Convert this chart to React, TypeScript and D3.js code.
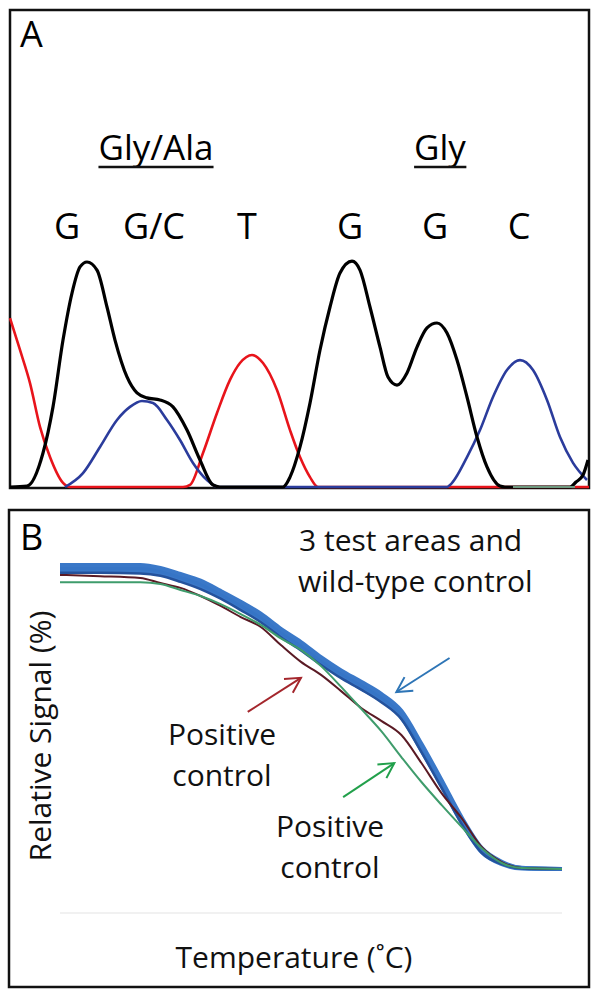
import React, { useEffect, useRef } from 'react';
import * as d3 from 'd3';

// ---- Panel A: sequencing chromatogram, [scan, signal %] ----
const blackTrace: [number, number][] = [
  [0, 0], [17, 0.4], [33, 15.1], [43, 35.6], [53, 65.3], [62, 86.2], [70, 97.8], [77, 100],
  [87, 96.4], [97, 80.0], [105, 65.3], [117, 48.9], [127, 41.8], [137, 39.6], [150, 38.7],
  [163, 35.6], [177, 25.3], [190, 12.0], [203, 0.9], [210, 0], [273, 0], [280, 4.4],
  [290, 17.8], [300, 37.3], [310, 60.9], [320, 80.0], [330, 95.1], [342, 100.4], [350, 96.4],
  [360, 80.0], [370, 62.2], [378, 48.9], [387, 45.3], [397, 50.7], [407, 62.2], [417, 70.7],
  [427, 72.9], [437, 68.4], [447, 56.4], [457, 40.0], [467, 22.2], [477, 8.9], [490, 0.4],
  [495, 0], [560, 0], [566, 2.2], [573, 5.3], [578, 12.0]
];
const redTrace: [number, number][] = [
  [0, 75.1], [10, 60.9], [20, 46.2], [30, 26.7], [40, 13.3], [53, 1.8], [60, 0], [173, 0],
  [180, 0.9], [193, 15.1], [207, 32.9], [220, 47.6], [230, 55.1], [242, 58.7], [253, 55.1],
  [267, 43.1], [280, 25.3], [290, 13.3], [300, 4.4], [308, 0], [579, 0]
];
const blueTrace: [number, number][] = [
  [55, 0], [73, 6.2], [90, 17.8], [107, 29.8], [120, 35.6], [132, 38.2], [143, 37.3],
  [157, 29.8], [170, 20.9], [183, 10.7], [197, 3.1], [208, 0], [437, 0], [440, 0.9],
  [457, 13.3], [470, 25.3], [483, 40.0], [497, 52.0], [510, 56.4], [523, 52.0], [537, 38.7],
  [550, 22.2], [563, 10.7], [577, 3.1]
];
const greenTrace: [number, number][] = [[503, 0], [565, 0]];

const baseCalls = ['G', 'G/C', 'T', 'G', 'G', 'C'];
const baseCallScan = [57, 144, 237, 340, 425, 509];
const codons = ['Gly/Ala', 'Gly'];
const codonScan = [146, 430];

// ---- Panel B: melting curves, signal % by temperature ----
const temps = [70, 72, 74, 75, 76, 77, 78, 79, 80, 81, 82, 83, 84, 85, 86, 87, 88, 89, 90, 91, 92, 93, 95];
const testArea1 = [101.0, 101.0, 101.0, 100.0, 98.0, 95.8, 92.4, 88.8, 84.8, 79.8, 75.4, 70.4, 66.0, 62.2, 58.2, 52.6, 41.6, 29.6, 17.2, 7.0, 2.4, 0.4, 0];
const testArea2 = [100.0, 100.0, 100.0, 99.0, 97.0, 94.7, 91.4, 87.7, 83.7, 78.7, 74.4, 69.4, 65.1, 61.1, 57.1, 51.5, 40.5, 28.6, 16.3, 6.3, 2.0, 0.3, 0];
const testArea3 = [99.0, 99.0, 98.9, 98.0, 96.0, 93.6, 90.4, 86.6, 82.6, 77.6, 73.4, 68.4, 64.0, 60.0, 56.0, 50.4, 39.4, 27.6, 15.4, 5.6, 1.6, 0.2, 0];
const wildType = [98.4, 98.4, 98.2, 97.4, 95.4, 93.0, 89.8, 86.0, 82.0, 77.0, 72.6, 67.8, 63.4, 59.6, 55.4, 49.8, 38.8, 27.0, 15.0, 5.4, 1.6, 0.2, 0];
const positiveControl1 = [97.7, 97.3, 96.7, 95.0, 93.4, 90.7, 87.4, 83.7, 80.4, 74.4, 68.8, 64.5, 59.1, 53.5, 49.2, 44.5, 35.2, 25.2, 16.9, 7.3, 2.3, 0.3, 0];
const positiveControl2 = [95.3, 95.3, 95.3, 94.7, 92.7, 90.7, 88.0, 84.7, 81.1, 76.6, 72.8, 67.4, 60.5, 53.2, 45.8, 37.2, 28.9, 21.3, 14.0, 6.9, 2.0, 0.3, 0];

// arrows: [tailTemp, tailSignal, tipTemp, tipSignal]
const arrowPC1 = [79.35, 52.2, 82.0, 63.5];
const arrowTest = [89.4, 70.1, 86.75, 58.8];
const arrowPC2 = [84.1, 23.9, 86.65, 35.2];

const FONT = "'Open Sans', sans-serif";

function arrow(g: any, x1: number, y1: number, x2: number, y2: number, color: string) {
  const a = Math.atan2(y2 - y1, x2 - x1);
  const len = 17;
  const spread = 0.5;
  g.append('line')
    .attr('x1', x1).attr('y1', y1).attr('x2', x2).attr('y2', y2)
    .attr('stroke', color).attr('stroke-width', 2);
  g.append('path')
    .attr('d', `M${x2 - len * Math.cos(a - spread)},${y2 - len * Math.sin(a - spread)}L${x2},${y2}L${x2 - len * Math.cos(a + spread)},${y2 - len * Math.sin(a + spread)}`)
    .attr('fill', 'none').attr('stroke', color).attr('stroke-width', 2);
}

function drawPanelA(g: any) {
  const x = d3.scaleLinear().domain([0, 579]).range([10, 589]);
  const y = d3.scaleLinear().domain([0, 100]).range([487, 262]);

  g.append('rect')
    .attr('x', 10).attr('y', 10).attr('width', 579).attr('height', 478)
    .attr('fill', '#fff').attr('stroke', '#111').attr('stroke-width', 2.5);

  const line = d3.line<[number, number]>()
    .x((d) => x(d[0]))
    .y((d) => y(d[1]))
    .curve(d3.curveMonotoneX);

  const traces: [[number, number][], string, number][] = [
    [redTrace, '#e8141b', 2.6],
    [blueTrace, '#2b3c9c', 2.6],
    [blackTrace, '#000', 3.2],
    [greenTrace, '#6f9a80', 2],
  ];
  traces.forEach(([data, color, w]) => {
    g.append('path')
      .attr('d', line(data))
      .attr('fill', 'none')
      .attr('stroke', color)
      .attr('stroke-width', w);
  });

  g.append('text')
    .attr('x', 20).attr('y', 47)
    .attr('font-family', FONT).attr('font-size', 36)
    .text('A');

  codons.forEach((c, i) => {
    const t = g.append('text')
      .attr('x', x(codonScan[i])).attr('y', 160)
      .attr('text-anchor', 'middle')
      .attr('font-family', FONT).attr('font-size', 35)
      .text(c);
    const bb = (t.node() as SVGTextElement).getBBox();
    g.append('line')
      .attr('x1', bb.x).attr('x2', bb.x + bb.width)
      .attr('y1', 167).attr('y2', 167)
      .attr('stroke', '#111').attr('stroke-width', 2.5);
  });

  baseCalls.forEach((b, i) => {
    g.append('text')
      .attr('x', x(baseCallScan[i])).attr('y', 239)
      .attr('text-anchor', 'middle')
      .attr('font-family', FONT).attr('font-size', 36)
      .text(b);
  });
}

function drawPanelB(g: any) {
  const x = d3.scaleLinear().domain([70, 95]).range([60, 562]);
  const y = d3.scaleLinear().domain([0, 100]).range([869, 568]);

  g.append('rect')
    .attr('x', 9).attr('y', 510).attr('width', 580).attr('height', 477)
    .attr('fill', '#fff').attr('stroke', '#111').attr('stroke-width', 2.5);

  // faint baseline
  g.append('line')
    .attr('x1', 60).attr('x2', 562).attr('y1', 913).attr('y2', 913)
    .attr('stroke', '#f1f1f1').attr('stroke-width', 2);

  const line = d3.line<number>()
    .x((d, i) => x(temps[i]))
    .y((d) => y(d))
    .curve(d3.curveMonotoneX);

  const series: [number[], string, number][] = [
    [testArea3, '#3a78c8', 4],
    [testArea2, '#3675c6', 4],
    [testArea1, '#3a78c8', 4],
    [wildType, '#24529c', 2.5],
    [positiveControl1, '#5a1a24', 2],
    [positiveControl2, '#3f9c6c', 2],
  ];
  series.forEach(([data, color, w]) => {
    g.append('path')
      .attr('d', line(data))
      .attr('fill', 'none')
      .attr('stroke', color)
      .attr('stroke-width', w);
  });

  arrow(g, x(arrowPC1[0]), y(arrowPC1[1]), x(arrowPC1[2]), y(arrowPC1[3]), '#a4262c');
  arrow(g, x(arrowTest[0]), y(arrowTest[1]), x(arrowTest[2]), y(arrowTest[3]), '#2e75b6');
  arrow(g, x(arrowPC2[0]), y(arrowPC2[1]), x(arrowPC2[2]), y(arrowPC2[3]), '#22a04b');

  const txt = (tx: number, ty: number, s: string, anchor = 'middle') =>
    g.append('text')
      .attr('x', tx).attr('y', ty)
      .attr('text-anchor', anchor)
      .attr('font-family', FONT).attr('font-size', 30)
      .attr('fill', '#111')
      .text(s);

  g.append('text')
    .attr('x', 20).attr('y', 550)
    .attr('font-family', FONT).attr('font-size', 36)
    .text('B');

  txt(299, 551, '3 test areas and', 'start');
  txt(298, 592, 'wild-type control', 'start');
  txt(222, 745, 'Positive');
  txt(222, 786, 'control');
  txt(330, 837, 'Positive');
  txt(330, 878, 'control');
  txt(294, 968, 'Temperature (˚C)');

  g.append('text')
    .attr('transform', 'translate(51,736) rotate(-90)')
    .attr('text-anchor', 'middle')
    .attr('font-family', FONT).attr('font-size', 30)
    .attr('fill', '#111')
    .text('Relative Signal (%)');
}

export default function App() {
  const ref = useRef<SVGSVGElement>(null);

  useEffect(() => {
    const svg = d3.select(ref.current);
    svg.selectAll('*').remove();
    drawPanelA(svg.append('g'));
    drawPanelB(svg.append('g'));
  }, []);

  return (
    <svg
      ref={ref}
      width={600}
      height={1000}
      style={{ position: 'absolute', left: 0, top: 0, background: '#fff' }}
    />
  );
}
